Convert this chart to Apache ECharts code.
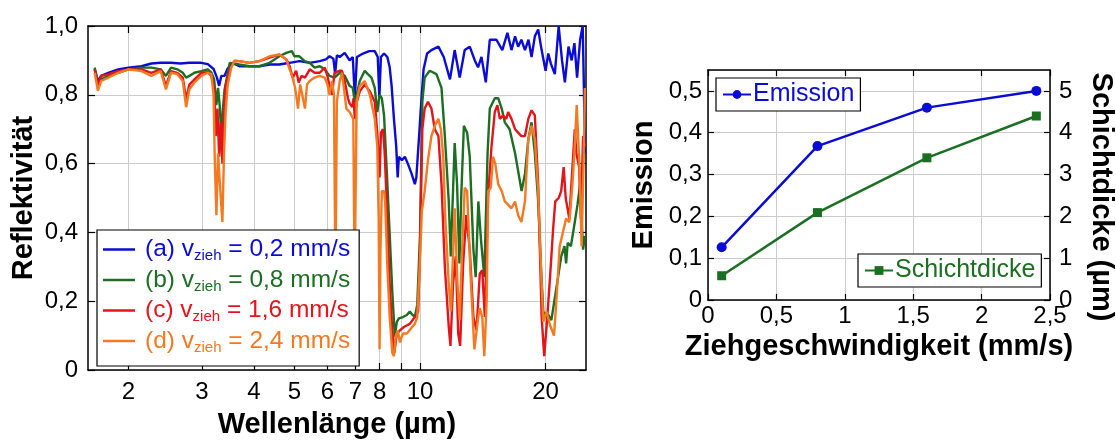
<!DOCTYPE html>
<html>
<head>
<meta charset="utf-8">
<script src="https://cdn.jsdelivr.net/npm/echarts@6/dist/echarts.min.js"></script>
<style>
  html, body { margin: 0; padding: 0; background: #fff; }
  #chart { width: 1116px; height: 444px; }
</style>
</head>
<body>
<div id="chart"></div>
<script>
// Reflectivity spectra: [wavelength in µm, reflectivity]
const specA = [
  [1.66,0.874],[1.69,0.84],[1.72,0.855],[1.79,0.864],[1.89,0.874],[2.0,0.879],[2.15,0.883],[2.27,0.891],[2.39,0.893],[2.53,0.893],[2.66,0.891],[2.8,0.893],[2.99,0.893],[3.1,0.889],[3.2,0.875],[3.26,0.85],[3.3,0.826],[3.34,0.855],[3.4,0.855],[3.45,0.874],[3.55,0.893],[3.69,0.883],[3.9,0.883],[4.12,0.883],[4.36,0.888],[4.6,0.888],[4.87,0.893],[5.14,0.898],[5.44,0.893],[5.75,0.898],[5.95,0.903],[6.07,0.912],[6.2,0.905],[6.26,0.86],[6.32,0.915],[6.42,0.91],[6.6,0.922],[6.78,0.9],[6.9,0.91],[6.98,0.79],[7.06,0.91],[7.3,0.92],[7.55,0.927],[7.79,0.927],[7.92,0.91],[7.99,0.79],[8.06,0.91],[8.2,0.92],[8.35,0.91],[8.46,0.88],[8.55,0.826],[8.66,0.73],[8.77,0.65],[8.84,0.56],[8.9,0.62],[9.05,0.61],[9.2,0.62],[9.35,0.6],[9.55,0.57],[9.72,0.54],[9.8,0.56],[9.95,0.68],[10.07,0.78],[10.2,0.874],[10.4,0.92],[10.65,0.93],[11.07,0.94],[11.4,0.91],[11.8,0.845],[12.11,0.93],[12.45,0.85],[12.8,0.93],[13.16,0.94],[13.53,0.9],[13.78,0.88],[14.04,0.91],[14.38,0.836],[14.7,0.96],[15.25,0.96],[15.75,0.93],[16.2,0.98],[16.57,0.93],[16.9,0.97],[17.19,0.94],[17.5,0.96],[17.85,0.93],[18.2,0.96],[18.51,0.91],[18.85,0.97],[19.2,0.99],[19.57,0.93],[20.0,0.87],[20.3,0.92],[20.6,0.89],[21.05,0.86],[21.5,1.0],[21.9,0.9],[22.25,0.836],[22.7,0.94],[23.1,0.9],[23.45,0.95],[23.8,0.85],[24.2,0.96],[24.55,1.0],[24.72,0.81],[24.85,0.63]
];
const specB = [
  [1.66,0.879],[1.69,0.835],[1.72,0.845],[1.79,0.855],[1.89,0.864],[2.0,0.874],[2.15,0.879],[2.27,0.879],[2.39,0.874],[2.46,0.855],[2.53,0.879],[2.62,0.874],[2.7,0.864],[2.75,0.85],[2.8,0.855],[2.88,0.864],[2.99,0.869],[3.1,0.874],[3.16,0.865],[3.21,0.845],[3.25,0.77],[3.28,0.82],[3.31,0.77],[3.34,0.68],[3.37,0.76],[3.4,0.815],[3.45,0.855],[3.5,0.893],[3.69,0.888],[3.9,0.883],[4.12,0.883],[4.36,0.893],[4.6,0.912],[4.78,0.922],[4.93,0.927],[5.0,0.912],[5.14,0.912],[5.29,0.898],[5.44,0.893],[5.59,0.879],[5.75,0.883],[5.91,0.874],[6.07,0.855],[6.24,0.85],[6.42,0.864],[6.6,0.855],[6.78,0.826],[6.9,0.82],[6.98,0.778],[7.05,0.8],[7.17,0.84],[7.37,0.87],[7.5,0.86],[7.65,0.85],[7.79,0.82],[7.9,0.75],[8.0,0.8],[8.1,0.79],[8.2,0.74],[8.33,0.57],[8.46,0.394],[8.58,0.23],[8.7,0.097],[8.8,0.14],[8.9,0.15],[9.1,0.154],[9.3,0.16],[9.45,0.17],[9.6,0.16],[9.72,0.154],[9.85,0.19],[10.0,0.39],[10.07,0.61],[10.13,0.78],[10.26,0.85],[10.55,0.87],[10.95,0.86],[11.26,0.82],[11.47,0.68],[11.72,0.49],[11.85,0.33],[12.11,0.66],[12.27,0.54],[12.43,0.31],[12.56,0.51],[12.74,0.71],[12.97,0.69],[13.16,0.62],[13.43,0.35],[13.6,0.27],[13.8,0.49],[14.0,0.38],[14.26,0.27],[14.52,0.63],[14.7,0.76],[15.11,0.79],[15.4,0.79],[15.7,0.76],[15.97,0.72],[16.4,0.7],[16.9,0.63],[17.35,0.55],[17.52,0.52],[17.85,0.57],[18.18,0.67],[18.51,0.72],[18.85,0.63],[19.2,0.49],[19.5,0.3],[19.75,0.17],[20.0,0.154],[20.3,0.16],[20.65,0.145],[21.05,0.21],[21.43,0.27],[21.8,0.33],[22.2,0.36],[22.4,0.31],[22.6,0.37],[23.0,0.36],[23.43,0.42],[23.85,0.48],[24.2,0.54],[24.35,0.46],[24.6,0.35],[24.85,0.39]
];
const specC = [
  [1.66,0.874],[1.69,0.826],[1.72,0.855],[1.79,0.86],[1.89,0.869],[2.0,0.874],[2.15,0.874],[2.27,0.864],[2.39,0.874],[2.46,0.826],[2.53,0.869],[2.62,0.864],[2.7,0.85],[2.75,0.787],[2.8,0.83],[2.88,0.845],[2.99,0.864],[3.1,0.866],[3.16,0.855],[3.21,0.82],[3.24,0.68],[3.27,0.76],[3.3,0.62],[3.33,0.72],[3.36,0.6],[3.39,0.75],[3.42,0.826],[3.5,0.874],[3.59,0.898],[3.69,0.898],[3.9,0.893],[4.12,0.898],[4.36,0.908],[4.6,0.917],[4.78,0.903],[4.87,0.883],[4.95,0.85],[5.05,0.87],[5.12,0.836],[5.2,0.855],[5.3,0.85],[5.44,0.874],[5.59,0.864],[5.75,0.864],[5.91,0.879],[6.0,0.855],[6.07,0.826],[6.15,0.8],[6.24,0.864],[6.42,0.87],[6.5,0.87],[6.6,0.84],[6.72,0.79],[6.78,0.775],[6.88,0.764],[6.93,0.79],[6.98,0.73],[7.06,0.78],[7.17,0.81],[7.37,0.83],[7.58,0.81],[7.79,0.78],[7.9,0.69],[7.96,0.61],[8.0,0.56],[8.06,0.69],[8.15,0.7],[8.23,0.63],[8.35,0.44],[8.46,0.25],[8.58,0.115],[8.68,0.05],[8.8,0.106],[8.95,0.115],[9.15,0.125],[9.45,0.134],[9.72,0.154],[9.9,0.17],[10.0,0.35],[10.07,0.54],[10.13,0.7],[10.26,0.76],[10.45,0.78],[10.65,0.76],[10.85,0.7],[11.07,0.68],[11.26,0.54],[11.47,0.3],[11.72,0.125],[11.83,0.07],[12.0,0.25],[12.18,0.33],[12.35,0.106],[12.48,0.07],[12.69,0.31],[12.91,0.45],[13.16,0.35],[13.43,0.154],[13.66,0.115],[13.91,0.28],[14.1,0.29],[14.3,0.154],[14.57,0.51],[14.84,0.65],[15.11,0.75],[15.33,0.77],[15.54,0.73],[15.82,0.74],[16.1,0.73],[16.27,0.75],[16.57,0.73],[16.9,0.7],[17.19,0.69],[17.5,0.68],[17.85,0.68],[18.18,0.73],[18.51,0.755],[18.85,0.74],[19.2,0.54],[19.57,0.154],[19.85,0.04],[20.15,0.14],[20.5,0.27],[20.85,0.41],[21.1,0.49],[21.5,0.5],[21.8,0.52],[22.1,0.59],[22.35,0.5],[22.8,0.44],[23.2,0.59],[23.5,0.7],[23.7,0.63],[24.07,0.59],[24.3,0.44],[24.6,0.68],[24.85,0.65]
];
const specD = [
  [1.66,0.864],[1.69,0.812],[1.72,0.84],[1.79,0.85],[1.89,0.864],[2.0,0.874],[2.15,0.869],[2.27,0.855],[2.39,0.869],[2.46,0.816],[2.53,0.864],[2.62,0.86],[2.7,0.84],[2.75,0.764],[2.8,0.816],[2.88,0.836],[2.99,0.855],[3.1,0.864],[3.16,0.86],[3.2,0.8],[3.22,0.62],[3.25,0.45],[3.28,0.63],[3.31,0.55],[3.36,0.43],[3.39,0.63],[3.42,0.75],[3.46,0.83],[3.53,0.88],[3.6,0.9],[3.69,0.898],[3.9,0.893],[4.12,0.898],[4.36,0.912],[4.6,0.917],[4.78,0.903],[4.87,0.874],[4.95,0.85],[5.02,0.82],[5.1,0.76],[5.16,0.83],[5.22,0.8],[5.3,0.76],[5.36,0.83],[5.44,0.84],[5.59,0.85],[5.75,0.855],[5.91,0.85],[6.0,0.83],[6.07,0.8],[6.15,0.84],[6.22,0.8],[6.27,0.25],[6.32,0.78],[6.42,0.84],[6.5,0.864],[6.56,0.826],[6.66,0.76],[6.78,0.75],[6.92,0.73],[6.97,0.25],[7.05,0.78],[7.17,0.826],[7.37,0.84],[7.58,0.8],[7.79,0.73],[7.9,0.65],[7.96,0.44],[8.0,0.06],[8.04,0.35],[8.1,0.52],[8.2,0.52],[8.25,0.49],[8.35,0.3],[8.46,0.154],[8.58,0.05],[8.66,0.04],[8.75,0.1],[8.85,0.115],[8.95,0.08],[9.1,0.106],[9.3,0.106],[9.5,0.12],[9.72,0.134],[9.85,0.154],[10.0,0.32],[10.1,0.46],[10.26,0.52],[10.45,0.61],[10.65,0.68],[10.85,0.71],[11.07,0.73],[11.22,0.7],[11.37,0.62],[11.5,0.44],[11.72,0.25],[11.86,0.17],[12.11,0.47],[12.3,0.25],[12.45,0.145],[12.62,0.35],[12.8,0.53],[12.97,0.52],[13.25,0.25],[13.5,0.06],[13.78,0.15],[13.91,0.18],[14.1,0.154],[14.26,0.04],[14.45,0.2],[14.57,0.52],[14.78,0.53],[14.96,0.62],[15.15,0.6],[15.4,0.54],[15.7,0.52],[15.97,0.49],[16.27,0.48],[16.57,0.47],[16.9,0.49],[17.19,0.45],[17.5,0.43],[17.85,0.49],[18.18,0.67],[18.51,0.71],[18.85,0.67],[19.2,0.52],[19.57,0.25],[19.75,0.14],[20.1,0.17],[20.5,0.13],[20.95,0.1],[21.2,0.19],[21.62,0.36],[22.0,0.4],[22.4,0.44],[22.8,0.43],[23.2,0.54],[23.5,0.65],[23.75,0.77],[24.1,0.6],[24.4,0.36],[24.7,0.63],[24.85,0.82]
];

// Legend keys and the drawing speeds they belong to
const specKeys = ['a', 'b', 'c', 'd'];
const specSpeeds = ['0,2', '0,8', '1,6', '2,4'];
const specColors = ['#0b0bd6', '#1b6e22', '#e3151b', '#f47a22'];

// Wavelength axis ticks and labels
const wlTicks = [2, 3, 4, 5, 6, 7, 8, 9, 10, 20];
const wlLabels = [2, 3, 4, 5, 6, 7, 8, 10, 20];

// Emission and layer thickness versus drawing speed
const speed = [0.1, 0.8, 1.6, 2.4];
const emission = [0.126, 0.368, 0.46, 0.50];
const thickness = [0.58, 2.09, 3.40, 4.40];

const FONT = '"Liberation Sans", Arial, sans-serif';
const BLACK = '#000';
const GRID = '#cccccc';

const comma = v => String(v).replace('.', ',');
const oneDecimal = v => (v === 0 ? '0' : v.toFixed(1).replace('.', ','));

const axisLine = { show: true, onZero: false, lineStyle: { color: BLACK, width: 1.5 } };
const tickStyle = { color: BLACK, width: 1.2 };
const labelStyle = { color: BLACK, fontSize: 24, fontFamily: FONT };
const nameStyle = { color: BLACK, fontSize: 29, fontWeight: 'bold', fontFamily: FONT };

// Rich text styles for the spectra legend (colored text with subscript)
const legendRich = {};
specKeys.forEach((k, i) => {
  legendRich['h' + k] = { color: specColors[i], fontSize: 24.5, lineHeight: 28, fontFamily: FONT, padding: [0, 0, 0, 5] };
  legendRich['t' + k] = { color: specColors[i], fontSize: 24.5, lineHeight: 28, fontFamily: FONT };
  legendRich['s' + k] = { color: specColors[i], fontSize: 15, lineHeight: 12, verticalAlign: 'bottom', fontFamily: FONT };
});

const spectra = [specA, specB, specC, specD];

const chart = echarts.init(document.getElementById('chart'), null, { renderer: 'canvas' });

chart.setOption({
  animation: false,
  backgroundColor: '#fff',
  textStyle: { fontFamily: FONT },
  grid: [
    { left: 88, top: 26, width: 498, height: 348, containLabel: false },
    { left: 708, top: 70, width: 345, height: 230, containLabel: false }
  ],
  xAxis: [
    {
      gridIndex: 0, type: 'log', logBase: 10, min: 1.6, max: 25, position: 'bottom',
      axisLine: axisLine,
      axisTick: { show: true, inside: true, length: 7, customValues: wlTicks, lineStyle: tickStyle },
      axisLabel: Object.assign({ customValues: wlLabels, margin: 10, formatter: v => String(v) }, labelStyle),
      splitLine: { show: true, lineStyle: { color: GRID, width: 1 } },
      minorTick: { show: false }, minorSplitLine: { show: false },
      name: 'Wellenlänge (µm)', nameLocation: 'middle', nameGap: 40, nameTextStyle: nameStyle
    },
    {
      gridIndex: 0, type: 'log', logBase: 10, min: 1.6, max: 25, position: 'top',
      axisLine: axisLine,
      axisTick: { show: true, inside: true, length: 7, customValues: wlTicks, lineStyle: tickStyle },
      axisLabel: { show: false }, splitLine: { show: false }
    },
    {
      gridIndex: 1, type: 'value', min: 0, max: 2.5, interval: 0.5, position: 'bottom',
      axisLine: axisLine,
      axisTick: { show: true, inside: true, length: 6, lineStyle: tickStyle },
      axisLabel: Object.assign({ margin: 4, formatter: comma }, labelStyle),
      splitLine: { show: true, lineStyle: { color: GRID, width: 1 } },
      name: 'Ziehgeschwindigkeit (mm/s)', nameLocation: 'middle', nameGap: 27, nameTextStyle: nameStyle
    },
    {
      gridIndex: 1, type: 'value', min: 0, max: 2.5, interval: 0.5, position: 'top',
      axisLine: axisLine,
      axisTick: { show: true, inside: true, length: 6, lineStyle: tickStyle },
      axisLabel: { show: false }, splitLine: { show: false }
    }
  ],
  yAxis: [
    {
      gridIndex: 0, type: 'value', min: 0, max: 1, interval: 0.2, position: 'left',
      axisLine: axisLine,
      axisTick: { show: true, inside: true, length: 7, lineStyle: tickStyle },
      axisLabel: Object.assign({ margin: 10, formatter: oneDecimal }, labelStyle),
      splitLine: { show: true, lineStyle: { color: GRID, width: 1 } },
      name: 'Reflektivität', nameLocation: 'middle', nameGap: 50, nameTextStyle: nameStyle
    },
    {
      gridIndex: 0, type: 'value', min: 0, max: 1, interval: 0.2, position: 'right',
      axisLine: axisLine,
      axisTick: { show: true, inside: true, length: 7, lineStyle: tickStyle },
      axisLabel: { show: false }, splitLine: { show: false }
    },
    {
      gridIndex: 1, type: 'value', min: 0, max: 0.55, interval: 0.1, position: 'left',
      axisLine: axisLine,
      axisTick: { show: true, inside: true, length: 6, lineStyle: tickStyle },
      axisLabel: Object.assign({ margin: 6, formatter: oneDecimal, showMaxLabel: false }, labelStyle),
      splitLine: { show: true, lineStyle: { color: GRID, width: 1 } },
      name: 'Emission', nameLocation: 'middle', nameGap: 50, nameTextStyle: nameStyle
    },
    {
      gridIndex: 1, type: 'value', min: 0, max: 5.5, interval: 1, position: 'right',
      axisLine: axisLine,
      axisTick: { show: true, inside: true, length: 6, lineStyle: tickStyle },
      axisLabel: Object.assign({ margin: 9, formatter: comma, showMaxLabel: false }, labelStyle),
      splitLine: { show: false },
      name: 'Schichtdicke (µm)', nameLocation: 'middle', nameGap: 36, nameRotate: -90,
      nameTextStyle: Object.assign({ padding: [0, 0, 0, 24] }, nameStyle)
    }
  ],
  legend: [
    {
      data: specKeys.map(k => ({ name: k, icon: 'rect' })),
      orient: 'vertical',
      left: 97, top: 230, z: 10,
      itemWidth: 32, itemHeight: 2.5, itemGap: 4,
      padding: [7, 9, 11, 6],
      backgroundColor: '#fff',
      borderColor: BLACK, borderWidth: 1.2,
      formatter: name => {
        const i = specKeys.indexOf(name);
        return '{h' + name + '|(' + name + ') v}{s' + name + '|zieh}{t' + name + '| = ' + specSpeeds[i] + ' mm/s}';
      },
      textStyle: { rich: legendRich, fontSize: 24.5 }
    },
    {
      data: ['Emission'],
      left: 716, top: 78, z: 10,
      itemWidth: 28, itemHeight: 11, itemGap: 0,
      padding: [4, 6, 4, 6],
      backgroundColor: '#fff',
      borderColor: BLACK, borderWidth: 1.2,
      textStyle: { color: specColors[0], fontSize: 25, fontFamily: FONT, padding: [0, 0, 0, -3] }
    },
    {
      data: ['Schichtdicke'],
      left: 858, top: 254, z: 10,
      itemWidth: 28, itemHeight: 11, itemGap: 0,
      padding: [4, 6, 4, 6],
      backgroundColor: '#fff',
      borderColor: BLACK, borderWidth: 1.2,
      textStyle: { color: specColors[1], fontSize: 25, fontFamily: FONT, padding: [0, 0, 0, -3] }
    }
  ],
  series: spectra.map((d, i) => ({
    name: specKeys[i],
    type: 'line',
    xAxisIndex: 0, yAxisIndex: 0,
    data: d,
    showSymbol: false, symbol: 'none',
    lineStyle: { color: specColors[i], width: 2.4 },
    itemStyle: { color: specColors[i] }
  })).concat([
    {
      name: 'Emission', type: 'line', xAxisIndex: 2, yAxisIndex: 2,
      data: speed.map((s, i) => [s, emission[i]]),
      symbol: 'circle', symbolSize: 10,
      lineStyle: { color: specColors[0], width: 2.5 },
      itemStyle: { color: specColors[0] }
    },
    {
      name: 'Schichtdicke', type: 'line', xAxisIndex: 2, yAxisIndex: 3,
      data: speed.map((s, i) => [s, thickness[i]]),
      symbol: 'rect', symbolSize: 9,
      lineStyle: { color: specColors[1], width: 2.5 },
      itemStyle: { color: specColors[1] }
    }
  ])
});
</script>
</body>
</html>
